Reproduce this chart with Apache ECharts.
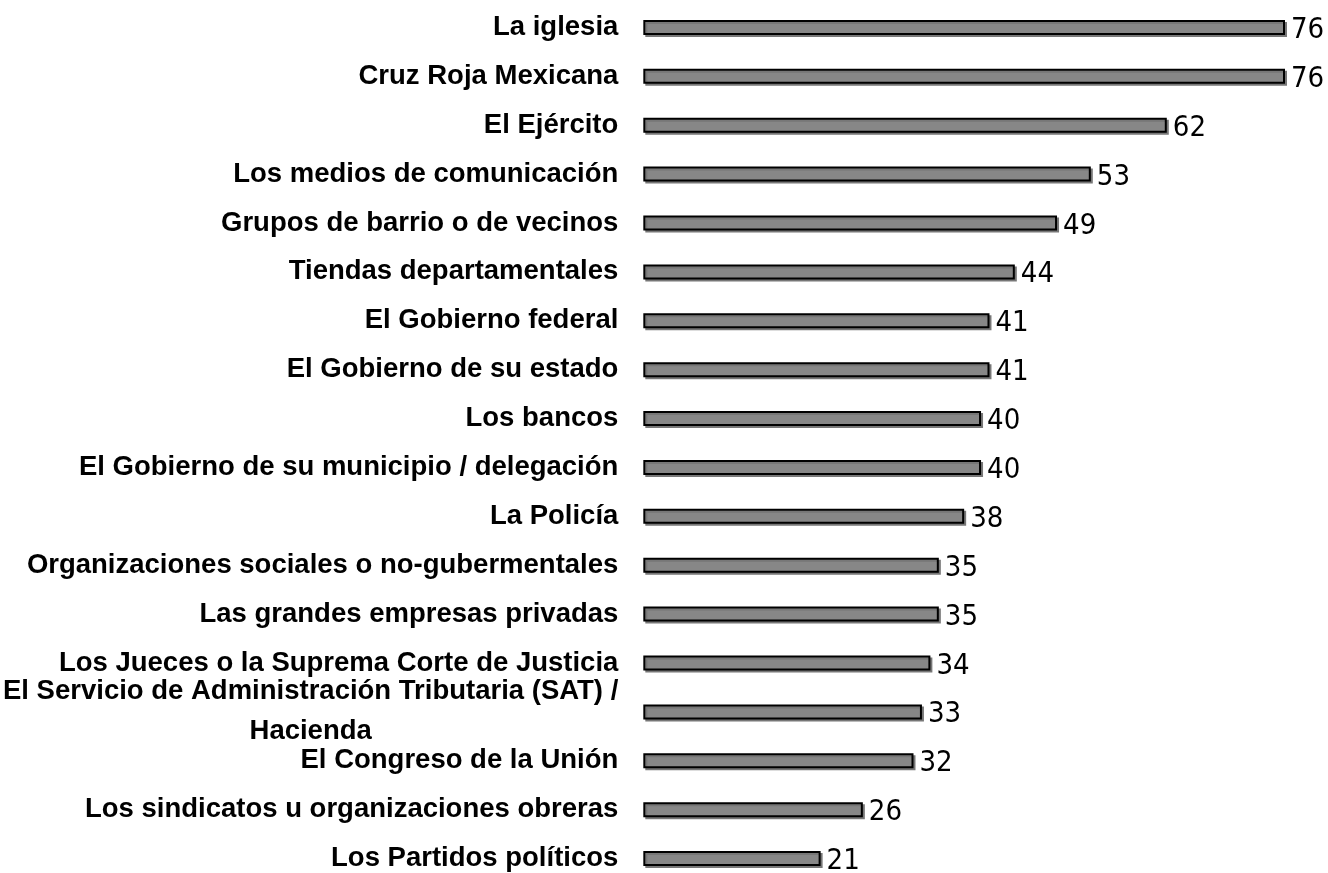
<!DOCTYPE html>
<html>
<head>
<meta charset="utf-8">
<script src="https://cdn.jsdelivr.net/npm/echarts@6/dist/echarts.min.js"></script>
<style>
  html, body { margin: 0; padding: 0; background: #fff; overflow: hidden; }
  #chart { width: 1328px; height: 883px; }
</style>
</head>
<body>
<div id="chart"></div>
<script>
// categorias y porcentajes
var categorias = [
  'La iglesia',
  'Cruz Roja Mexicana',
  'El Ejército',
  'Los medios de comunicación',
  'Grupos de barrio o de vecinos',
  'Tiendas departamentales',
  'El Gobierno federal',
  'El Gobierno de su estado',
  'Los bancos',
  'El Gobierno de su municipio / delegación',
  'La Policía',
  'Organizaciones sociales o no-gubermentales',
  'Las grandes empresas privadas',
  'Los Jueces o la Suprema Corte de Justicia',
  'El Servicio de Administración Tributaria (SAT) /\nHacienda',
  'El Congreso de la Unión',
  'Los sindicatos u organizaciones obreras',
  'Los Partidos políticos'
]
var valores = [76, 76, 62, 53, 49, 44, 41, 41, 40, 40, 38, 35, 35, 34, 33, 32, 26, 21]

// el div es un poco mas alto que la ventana para que la ultima barra quede abajo
var myChart = echarts.init(document.getElementById('chart'))
myChart.setOption({
  animation: false,
  grid: { left: 637, right: 43, top: 3, bottom: 0 },
  xAxis: {
    type: 'value',
    min: 0,
    max: 76,
    show: false
  },
  yAxis: {
    type: 'category',
    data: categorias,
    inverse: true,
    axisLine: { show: false },
    axisTick: { show: false },
    splitLine: { show: false },
    axisLabel: {
      margin: 25,
      formatter: function (v) {
        // lineas centradas en etiquetas de dos lineas
        return v.split('\n').map(function (s) { return '{c|' + s + '}' }).join('\n')
      },
      rich: {
        c: {
          align: 'center',
          fontFamily: 'Liberation Sans, Arial, sans-serif',
          fontWeight: 'bold',
          fontSize: 27.5,
          color: '#000',
          lineHeight: 40
        }
      }
    }
  },
  series: [
    {
      type: 'bar',
      data: valores,
      barWidth: 15,
      itemStyle: {
        color: '#878787',
        borderColor: '#000',
        borderWidth: 2,
        shadowColor: '#777',
        shadowOffsetX: 2,
        shadowOffsetY: 2
      },
      label: {
        show: true,
        position: 'right',
        distance: 6,
        color: '#000',
        fontFamily: "'DejaVu Sans Condensed', 'Liberation Sans Narrow', sans-serif",
        fontSize: 29,
        offset: [0, 3]
      }
    }
  ]
})
</script>
</body>
</html>
